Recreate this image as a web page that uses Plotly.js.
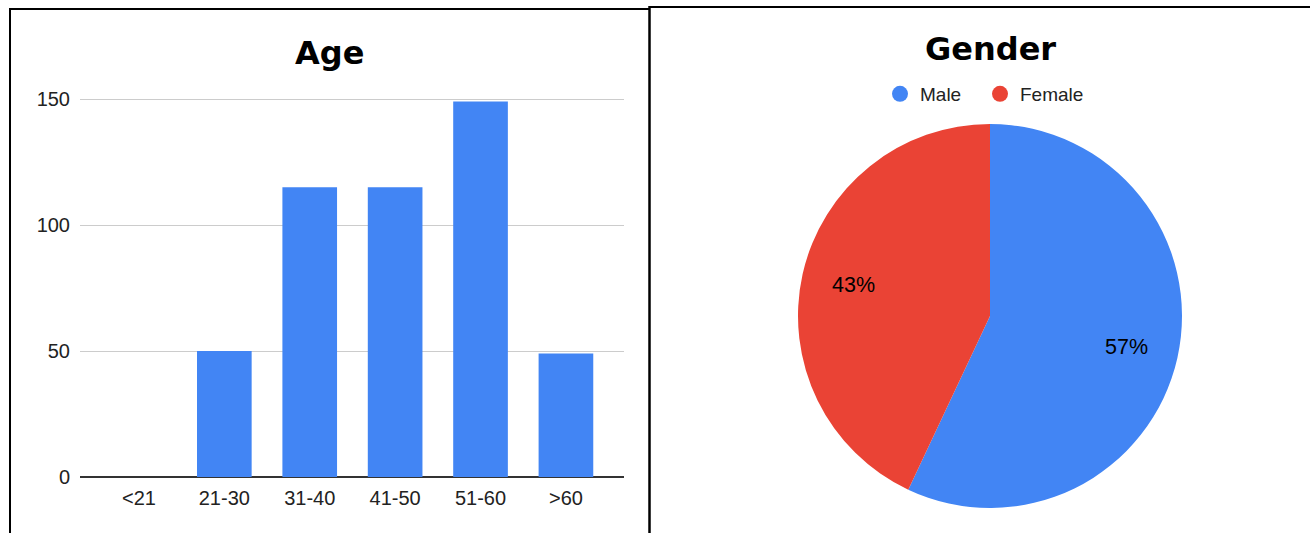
<!DOCTYPE html>
<html>
<head>
<meta charset="utf-8">
<script src="https://cdn.plot.ly/plotly-3.0.1.min.js"></script>
<style>html,body{margin:0;padding:0;background:#fff;}#chart{width:1310px;height:533px;}</style>
</head>
<body>
<div id="chart"></div>
<script>
// Age chart data
const ageCategories = ["<21", "21-30", "31-40", "41-50", "51-60", ">60"];
const ageCounts = [0, 50, 115, 115, 149, 49];
const ageTicks = [0, 50, 100, 150];

// Gender chart data
const genderLabels = ["Male", "Female"];
const genderShares = [57, 43];
const genderColors = ["#4285F4", "#EA4335"];

const W = 1310, H = 533;
const px = v => v / W;
const py = v => (H - v) / H;

const baseFamily = "'Liberation Sans', Arial, sans-serif";
const tickFont = {family: baseFamily, size: 20, color: "#222"};
const titleFont = {family: "'DejaVu Sans', sans-serif", size: 32, color: "#000", weight: "bold"};

// pie geometry (pixel centre and radius)
const pieCx = 990, pieCy = 316, pieR = 192;

const traces = [
  {
    type: "bar",
    x: ageCategories,
    y: ageCounts,
    marker: {color: "#4285F4"},
    showlegend: false,
    hoverinfo: "x+y",
    xaxis: "x", yaxis: "y"
  },
  {
    type: "pie",
    labels: genderLabels,
    values: genderShares,
    marker: {colors: genderColors},
    sort: false,
    direction: "clockwise",
    rotation: 0,
    textinfo: "none",
    showlegend: false,
    domain: {x: [px(pieCx - pieR), px(pieCx + pieR)], y: [py(pieCy + pieR), py(pieCy - pieR)]}
  }
];

// legend entries with circular swatches, one per gender category (each in its own legend box)
const legendIds = ["legend", "legend2"];
genderLabels.forEach((lab, i) => {
  traces.push({
    type: "scatter",
    mode: "markers",
    x: [null], y: [null],
    name: lab,
    legend: legendIds[i],
    marker: {color: genderColors[i], size: 19, symbol: "circle"},
    xaxis: "x", yaxis: "y",
    showlegend: true,
    hoverinfo: "skip"
  });
});

// percentage labels placed at each slice's mid-angle, derived from the data
const total = genderShares.reduce((a, b) => a + b, 0);
let cum = 0;
const pctAnnotations = genderShares.map(v => {
  const mid = (cum + v / 2) / total * 2 * Math.PI; // clockwise from 12 o'clock
  cum += v;
  const r = pieR * 0.73;
  return {
    text: Math.round(v / total * 100) + "%",
    xref: "paper", yref: "paper",
    x: px(pieCx + r * Math.sin(mid)),
    y: py(pieCy - r * Math.cos(mid)),
    xanchor: "center", yanchor: "middle",
    showarrow: false,
    font: {family: baseFamily, size: 21.5, color: "#000"}
  };
});

const legendStyle = (xpix) => ({
  orientation: "h",
  x: px(xpix), xanchor: "left",
  y: py(94), yanchor: "middle",
  font: {family: baseFamily, size: 19, color: "#222"},
  itemwidth: 30,
  bgcolor: "rgba(0,0,0,0)",
  borderwidth: 0
});

const layout = {
  width: W, height: H,
  margin: {l: 0, r: 0, t: 0, b: 0},
  paper_bgcolor: "#fff",
  plot_bgcolor: "#fff",
  bargap: 0.36,
  xaxis: {
    domain: [px(80), px(624)],
    range: [-0.69, 5.68],
    type: "category",
    tickfont: tickFont,
    showgrid: false,
    showline: false,
    ticks: "",
    ticklabelstandoff: 7,
    fixedrange: true
  },
  yaxis: {
    domain: [py(477), py(36)],
    range: [0, 175],
    tickvals: ageTicks,
    tickfont: tickFont,
    gridcolor: "#cccccc",
    gridwidth: 1,
    zeroline: true,
    zerolinecolor: "#333",
    zerolinewidth: 1.5,
    showline: false,
    ticks: "",
    ticklabelstandoff: 9,
    fixedrange: true
  },
  legend: legendStyle(880),
  legend2: legendStyle(980),
  annotations: [
    {text: "Age", xref: "paper", yref: "paper", x: px(330), y: py(53), xanchor: "center", yanchor: "middle", showarrow: false, font: titleFont},
    {text: "Gender", xref: "paper", yref: "paper", x: px(990), y: py(49), xanchor: "center", yanchor: "middle", showarrow: false, font: titleFont}
  ].concat(pctAnnotations),
  shapes: [
    {type: "line", xref: "paper", yref: "paper", x0: px(10), x1: px(10), y0: py(8), y1: py(540), line: {color: "#000", width: 2}},
    {type: "line", xref: "paper", yref: "paper", x0: px(9), x1: px(650), y0: py(9), y1: py(9), line: {color: "#000", width: 2}},
    {type: "line", xref: "paper", yref: "paper", x0: px(649.5), x1: px(649.5), y0: py(6), y1: py(540), line: {color: "#000", width: 2.5}},
    {type: "line", xref: "paper", yref: "paper", x0: px(649), x1: px(1312), y0: py(7), y1: py(7), line: {color: "#000", width: 2}}
  ],
  showlegend: true
};

Plotly.newPlot("chart", traces, layout, {displayModeBar: false, staticPlot: true});
</script>
</body>
</html>
